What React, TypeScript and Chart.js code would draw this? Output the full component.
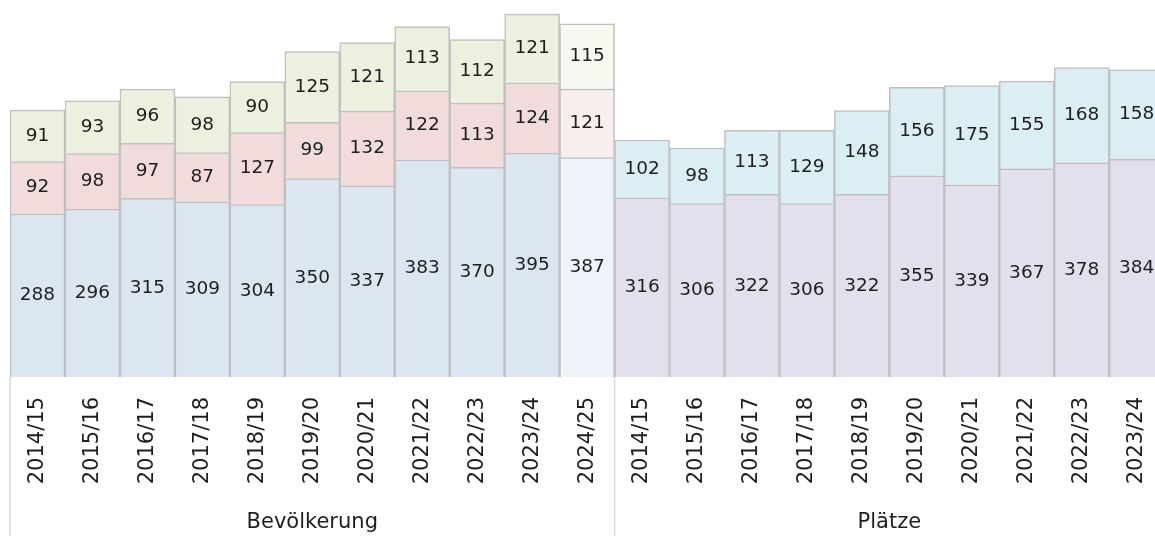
import React, { useEffect, useRef } from "react";
import { Chart, registerables } from "chart.js";

Chart.register(...registerables);

const bevYears = ["2014/15", "2015/16", "2016/17", "2017/18", "2018/19", "2019/20", "2020/21", "2021/22", "2022/23", "2023/24", "2024/25"];
const platzYears = ["2014/15", "2015/16", "2016/17", "2017/18", "2018/19", "2019/20", "2020/21", "2021/22", "2022/23", "2023/24"];
const categories = [...bevYears, ...platzYears];

const bevBottom = [288, 296, 315, 309, 304, 350, 337, 383, 370, 395, 387];
const bevMiddle = [92, 98, 97, 87, 127, 99, 132, 122, 113, 124, 121];
const bevTop = [91, 93, 96, 98, 90, 125, 121, 113, 112, 121, 115];
const platzBottom = [316, 306, 322, 306, 322, 355, 339, 367, 378, 384];
const platzTop = [102, 98, 113, 129, 148, 156, 175, 155, 168, 158];

const groupTitles = ["Bevölkerung", "Plätze"];

const FONT = '"DejaVu Sans", sans-serif';
const TEXT = "#1e1e1e";
const BORDER = "#bfbfbf";

const bevPad = (arr: number[]) => [...arr, ...platzYears.map(() => null)];
const platzPad = (arr: number[]) => [...bevYears.map(() => null), ...arr];
const bevColors = (normal: string, light: string) =>
  categories.map((_, i) => (i === bevYears.length - 1 ? light : normal));

const segLabels = {
  id: "segLabels",
  afterDatasetsDraw(chart: any) {
    const ctx = chart.ctx;
    ctx.save();
    ctx.font = `18.5px ${FONT}`;
    ctx.fillStyle = TEXT;
    ctx.textAlign = "center";
    ctx.textBaseline = "middle";
    chart.data.datasets.forEach((ds: any, i: number) => {
      const meta = chart.getDatasetMeta(i);
      meta.data.forEach((el: any, j: number) => {
        const v = ds.data[j];
        if (v == null) return;
        const p = el.getProps(["x", "y", "base"], true);
        ctx.fillText(String(v), p.x, (p.y + p.base) / 2);
      });
    });
    ctx.restore();
  },
};

const groups = {
  id: "groups",
  afterDraw(chart: any) {
    const ctx = chart.ctx;
    const xs = chart.scales.x;
    const area = chart.chartArea;
    const half = (xs.getPixelForValue(1) - xs.getPixelForValue(0)) / 2;
    const left0 = xs.getPixelForValue(0) - half;
    const split = xs.getPixelForValue(bevYears.length) - half;
    const end = xs.getPixelForValue(categories.length - 1) + half;
    ctx.save();
    ctx.strokeStyle = "#d9d9d9";
    ctx.lineWidth = 1.5;
    [left0, split].forEach((x) => {
      ctx.beginPath();
      ctx.moveTo(x, area.bottom);
      ctx.lineTo(x, chart.height);
      ctx.stroke();
    });
    ctx.font = `21px ${FONT}`;
    ctx.fillStyle = TEXT;
    ctx.textAlign = "center";
    ctx.textBaseline = "middle";
    ctx.fillText(groupTitles[0], (left0 + split) / 2, 523);
    ctx.fillText(groupTitles[1], (split + end) / 2, 523);
    ctx.restore();
  },
};

export default function App() {
  const ref = useRef<HTMLCanvasElement | null>(null);
  useEffect(() => {
    if (!ref.current) return;
    const common = { borderColor: BORDER, borderWidth: 1.5, stack: "s", categoryPercentage: 1, barPercentage: 1 };
    const chart = new Chart(ref.current, {
      type: "bar",
      data: {
        labels: categories,
        datasets: [
          { ...common, label: "Bev 1", data: bevPad(bevBottom), backgroundColor: bevColors("#dce6f1", "#eef3fa") },
          { ...common, label: "Bev 2", data: bevPad(bevMiddle), backgroundColor: bevColors("#f2dcdb", "#f9eeee") },
          { ...common, label: "Bev 3", data: bevPad(bevTop), backgroundColor: bevColors("#ebf1de", "#f5f8ef") },
          { ...common, label: "Pl 1", data: platzPad(platzBottom), backgroundColor: "#e4dfec" },
          { ...common, label: "Pl 2", data: platzPad(platzTop), backgroundColor: "#daeef3" },
        ] as any,
      },
      options: {
        animation: false,
        responsive: false,
        maintainAspectRatio: false,
        layout: { padding: { left: 10, right: 5, top: 0, bottom: 0 } },
        plugins: { legend: { display: false }, tooltip: { enabled: false } },
        scales: {
          x: {
            stacked: true,
            grid: { display: false, drawTicks: false },
            border: { display: false },
            ticks: {
              autoSkip: false,
              minRotation: 90,
              maxRotation: 90,
              padding: 20,
              color: TEXT,
              font: { family: FONT, size: 21 },
            },
            afterFit: (scale: any) => {
              scale.height = 159;
            },
          },
          y: { stacked: true, display: false, min: 0, max: 665 },
        },
      },
      plugins: [segLabels, groups],
    });
    return () => chart.destroy();
  }, []);
  return (
    <div style={{ position: "fixed", left: 0, top: 0, width: 1155, height: 536, overflow: "hidden", background: "#fff" }}>
      <canvas ref={ref} width={1182} height={536} style={{ display: "block", width: 1182, height: 536 }} />
    </div>
  );
}
